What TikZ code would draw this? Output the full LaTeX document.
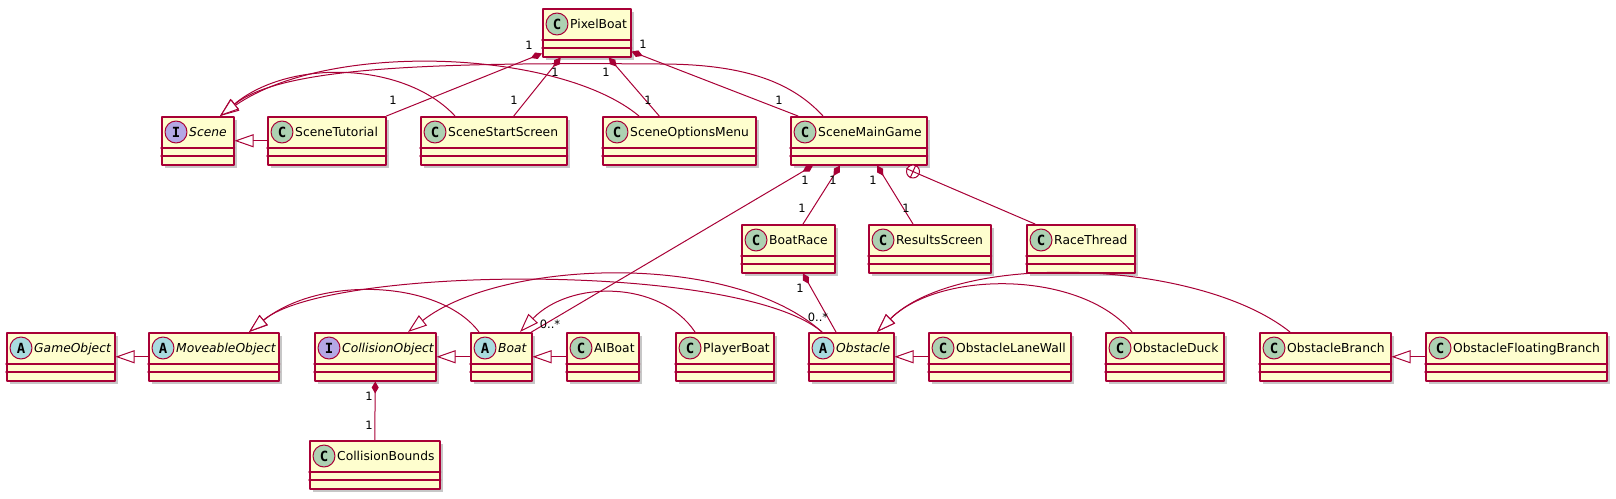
\documentclass[tikz,border=0pt]{standalone}
\usepackage{fontspec}
\setmainfont{DejaVu Sans}
\newfontfamily\iconfont{DejaVu Sans Mono}
\usepackage{tikz}
\usetikzlibrary{arrows.meta}
\definecolor{ayqqtw}{rgb}{0.6588,0.,0.2118}
\definecolor{fefece}{rgb}{0.9961,0.9961,0.8078}
\definecolor{addrbs}{rgb}{0.6784,0.8196,0.6980}
\definecolor{azdcdf}{rgb}{0.6627,0.8627,0.8745}
\definecolor{buaxev}{rgb}{0.7059,0.6549,0.8980}
\tikzset{
  classbox/.style={draw=ayqqtw,fill=fefece,line width=1.5pt,minimum height=48pt,inner sep=0pt,anchor=north west},
  classline/.style={draw=ayqqtw,line width=1.5pt},
  classicon/.style={circle,draw=ayqqtw,line width=1pt,minimum size=22pt,inner sep=0pt,font=\iconfont\bfseries\fontsize{14}{14}\selectfont},
  classname/.style={anchor=base west,inner sep=0pt,font=\fontsize{12.3}{14}\selectfont},
  assoc/.style={draw=ayqqtw,line width=1pt},
  compo/.style={assoc,{Diamond[length=12pt,width=7pt]}-},
  inherit/.style={assoc,-{Triangle[fill=white,length=19pt,width=13pt]}},
  mult/.style={inner sep=0pt,font=\fontsize{11.5}{13}\selectfont},
  nestball/.style={circle,draw=ayqqtw,fill=white,line width=1pt,minimum size=13pt,inner sep=0pt}
}
% #1 name, #2 left, #3 top, #4 width, #5 letter, #6 icon colour, #7 label
\newcommand{\umlclass}[7]{%
  \fill[black!22] (#2+4,#3+4) rectangle ++(#4,48);
  \node[classbox,minimum width=#4pt] (#1) at (#2,#3) {};
  \draw[classline] ([yshift=-32pt]#1.north west) -- ([yshift=-32pt]#1.north east);
  \draw[classline] ([yshift=-40pt]#1.north west) -- ([yshift=-40pt]#1.north east);
  \node[classicon,fill=#6] at ([xshift=15pt,yshift=-16pt]#1.north west) {#5};
  \node[classname] at ([xshift=28pt,yshift=-20.5pt]#1.north west) {#7};
}
\begin{document}
\begin{tikzpicture}[line cap=round,line join=round,x=1pt,y=-1pt]
            \useasboundingbox (0,0) rectangle (1616,498);
            \umlclass{PixelBoat}{542}{8}{88}{C}{addrbs}{PixelBoat}
            \umlclass{Scene}{161}{116}{72}{I}{buaxev}{\itshape Scene}
            \umlclass{SceneTutorial}{267}{116}{118}{C}{addrbs}{SceneTutorial}
            \umlclass{SceneStartScreen}{420}{116}{146}{C}{addrbs}{SceneStartScreen}
            \umlclass{SceneOptionsMenu}{602}{116}{153}{C}{addrbs}{SceneOptionsMenu}
            \umlclass{SceneMainGame}{790}{116}{136}{C}{addrbs}{SceneMainGame}
            \umlclass{BoatRace}{741}{224}{93}{C}{addrbs}{BoatRace}
            \umlclass{ResultsScreen}{868}{224}{122}{C}{addrbs}{ResultsScreen}
            \umlclass{RaceThread}{1026}{224}{108}{C}{addrbs}{RaceThread}
            \umlclass{GameObject}{6}{332}{108}{A}{azdcdf}{\itshape GameObject}
            \umlclass{MoveableObject}{148}{332}{130}{A}{azdcdf}{\itshape MoveableObject}
            \umlclass{CollisionObject}{314}{332}{121}{I}{buaxev}{\itshape CollisionObject}
            \umlclass{Boat}{470}{332}{61}{A}{azdcdf}{\itshape Boat}
            \umlclass{AIBoat}{566}{332}{72}{C}{addrbs}{AIBoat}
            \umlclass{PlayerBoat}{675}{332}{98}{C}{addrbs}{PlayerBoat}
            \umlclass{Obstacle}{808}{332}{85}{A}{azdcdf}{\itshape Obstacle}
            \umlclass{ObstacleLaneWall}{928}{332}{142}{C}{addrbs}{ObstacleLaneWall}
            \umlclass{ObstacleDuck}{1105}{332}{118}{C}{addrbs}{ObstacleDuck}
            \umlclass{ObstacleBranch}{1259}{332}{131}{C}{addrbs}{ObstacleBranch}
            \umlclass{ObstacleFloatingBranch}{1425}{332}{181}{C}{addrbs}{ObstacleFloatingBranch}
            \umlclass{CollisionBounds}{309}{440}{130}{C}{addrbs}{CollisionBounds}
            % generalisations
            \draw[inherit] (SceneTutorial.west) -- (Scene.east);
            \draw[inherit] ([xshift=35pt]SceneStartScreen.north west) .. controls (405,62) and (290,58) .. ([xshift=59pt]Scene.north west);
            \draw[inherit] ([xshift=37pt]SceneOptionsMenu.north west) .. controls (560,50) and (330,40) .. ([xshift=59pt]Scene.north west);
            \draw[inherit] ([xshift=33pt]SceneMainGame.north west) .. controls (790,80) and (740,64) .. (660,64) .. controls (420,62) and (280,68) .. ([xshift=59pt]Scene.north west);
            \draw[inherit] (MoveableObject.west) -- (GameObject.east);
            \draw[inherit] (Boat.west) -- (CollisionObject.east);
            \draw[inherit] (AIBoat.west) -- (Boat.east);
            \draw[inherit] (ObstacleLaneWall.west) -- (Obstacle.east);
            \draw[inherit] (ObstacleFloatingBranch.west) -- (ObstacleBranch.east);
            \draw[inherit] ([xshift=9pt]Boat.north west) .. controls (440,280) and (320,275) .. ([xshift=101pt]MoveableObject.north west);
            \draw[inherit] ([xshift=14pt]Obstacle.north west) .. controls (740,262) and (330,265) .. ([xshift=101pt]MoveableObject.north west);
            \draw[inherit] ([xshift=14pt]Obstacle.north west) .. controls (730,250) and (500,260) .. ([xshift=94pt]CollisionObject.north west);
            \draw[inherit] ([xshift=20pt]PlayerBoat.north west) .. controls (660,280) and (570,280) .. ([xshift=50pt]Boat.north west);
            \draw[inherit] ([xshift=27pt]ObstacleDuck.north west) .. controls (1080,270) and (940,270) .. ([xshift=69pt]Obstacle.north west);
            \draw[inherit] ([xshift=31pt]ObstacleBranch.north west) .. controls (1200,260) and (960,250) .. ([xshift=69pt]Obstacle.north west);
            % compositions
            \draw[compo] ([yshift=4pt]PixelBoat.south west) -- (SceneTutorial.north east);
            \draw[compo] ([xshift=-26pt]PixelBoat.south) -- ([xshift=20pt]SceneStartScreen.north);
            \draw[compo] ([xshift=22pt]PixelBoat.south) -- ([xshift=-20pt]SceneOptionsMenu.north);
            \draw[compo] ([yshift=6pt]PixelBoat.south east) -- ([xshift=8pt]SceneMainGame.north west);
            \draw[compo] ([xshift=23pt]SceneMainGame.south west) -- ([xshift=-1pt]Boat.north east);
            \draw[compo] ([xshift=50pt]SceneMainGame.south west) -- ([xshift=62pt]BoatRace.north west);
            \draw[compo] ([xshift=87pt]SceneMainGame.south west) -- ([xshift=45pt]ResultsScreen.north west);
            \draw[compo] ([xshift=62pt]BoatRace.south west) -- ([xshift=28pt]Obstacle.north west);
            \draw[compo] (CollisionObject.south) -- (CollisionBounds.north);
            % inner class
            \node[nestball] (nest) at ([xshift=123pt,yshift=-6pt]SceneMainGame.south west) {};
            \draw[assoc] (nest.66) -- (nest.246) (nest.156) -- (nest.-24);
            \draw[assoc] (nest.-24) -- ([xshift=9pt]RaceThread.north west);
            % multiplicities
            \node[mult] (m1) at (529,45) {1};
            \node[mult] (m2) at (393,100) {1};
            \node[mult] (m3) at (555,72) {1};
            \node[mult] (m4) at (514,100) {1};
            \node[mult] (m5) at (606,72) {1};
            \node[mult] (m6) at (648,100) {1};
            \node[mult] (m7) at (643,44) {1};
            \node[mult] (m8) at (779,100) {1};
            \node[mult] (m9) at (805,180) {1};
            \node[mult] (m10) at (550,324) {0..*};
            \node[mult] (m11) at (833,180) {1};
            \node[mult] (m12) at (802,208) {1};
            \node[mult] (m13) at (873,180) {1};
            \node[mult] (m14) at (906,208) {1};
            \node[mult] (m15) at (800,288) {1};
            \node[mult] (m16) at (818,317) {0..*};
            \node[mult] (m17) at (369,396) {1};
            \node[mult] (m18) at (369,425) {1};
            \end{tikzpicture}
\end{document}
